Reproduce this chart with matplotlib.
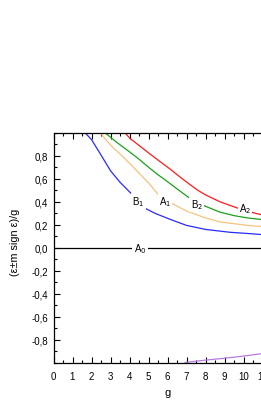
import matplotlib
matplotlib.use("Agg")
import matplotlib.pyplot as plt
import numpy as np
from matplotlib.ticker import MultipleLocator, FuncFormatter

plt.rcParams['font.family'] = ['Liberation Sans', 'DejaVu Sans']

# Data
gA2 = [3.76, 4.03, 4.5, 5.08, 5.6, 6.13, 6.7, 7.18, 7.6, 8.0, 8.76, 9.7, 10.4, 11.0, 12.0]
vA2 = [1.0, 0.95, 0.89, 0.815, 0.75, 0.685, 0.61, 0.55, 0.50, 0.46, 0.40, 0.345, 0.31, 0.285, 0.26]

gB2 = [2.71, 3.3, 4.03, 4.5, 5.08, 5.5, 6.04, 6.6, 7.18, 7.87, 8.76, 9.5, 10.2, 11.0, 12.0]
vB2 = [1.0, 0.92, 0.83, 0.77, 0.69, 0.635, 0.57, 0.50, 0.43, 0.37, 0.31, 0.28, 0.26, 0.245, 0.23]

gA1 = [2.45, 2.8, 3.2, 3.6, 4.03, 4.5, 5.08, 5.57, 6.3, 7.0, 8.0, 8.76, 9.5, 10.2, 11.0, 12.0]
vA1 = [1.0, 0.93, 0.86, 0.80, 0.73, 0.65, 0.55, 0.45, 0.38, 0.32, 0.26, 0.225, 0.21, 0.195, 0.185, 0.17]

gB1 = [1.66, 2.0, 2.45, 3.0, 3.5, 4.1, 4.75, 5.34, 6.1, 7.0, 8.0, 9.3, 10.2, 11.0, 12.0]
vB1 = [1.0, 0.94, 0.82, 0.67, 0.57, 0.47, 0.35, 0.30, 0.25, 0.195, 0.16, 0.135, 0.125, 0.115, 0.105]

gA0 = [0.0, 12.0]
vA0 = [0.0, 0.0]

gP = [6.93, 8.0, 8.94, 10.0, 10.92, 12.0]
vP = [-0.995, -0.975, -0.96, -0.94, -0.92, -0.90]

labels = ['A$_2$', 'B$_2$', 'A$_1$', 'B$_1$', 'A$_0$']
label_g = [10.08, 7.54, 5.87, 4.45, 4.55]
label_v = [0.345, 0.38, 0.41, 0.405, 0.0]

fig = plt.figure(figsize=(2.61, 4.06), dpi=100)
ax = fig.add_axes([53.5/261, 42/406, 228/261, 230.3/406])

lw = 0.9
ax.plot(gA2, vA2, color='#ff1a1a', lw=lw)
ax.plot(gB2, vB2, color='#1aa01a', lw=lw)
ax.plot(gA1, vA1, color='#f5c47a', lw=lw)
ax.plot(gB1, vB1, color='#2a2aff', lw=lw)
ax.plot(gA0, vA0, color='black', lw=lw)
ax.plot(gP, vP, color='#b77ae0', lw=lw)

for t, x, y in zip(labels, label_g, label_v):
    ax.text(x, y, t, fontsize=7, ha='center', va='center',
            bbox=dict(facecolor='white', edgecolor='none', pad=1.0))

ax.set_xlim(0, 12)
ax.set_ylim(-1.0, 1.0)
ax.xaxis.set_major_locator(MultipleLocator(1))
ax.xaxis.set_minor_locator(MultipleLocator(0.5))
ax.set_yticks([-0.8, -0.6, -0.4, -0.2, 0.0, 0.2, 0.4, 0.6, 0.8])
ax.yaxis.set_minor_locator(MultipleLocator(0.1))
ax.yaxis.set_major_formatter(FuncFormatter(lambda v, p: ('%.1f' % v).replace('.', ',').replace('-0,0', '0,0')))
ax.tick_params(which='both', direction='in', top=True, right=True, labelsize=7, width=0.8)
ax.tick_params(which='major', length=4, pad=4)
ax.tick_params(which='minor', length=2)
ax.tick_params(axis='x', which='major', pad=6)
for s in ax.spines.values():
    s.set_linewidth(0.9)

ax.set_xlabel('g', fontsize=8, labelpad=4)
ax.set_ylabel('(ε±m sign ε)/g', fontsize=7.8)
ax.yaxis.set_label_coords(-33.5/228, (406 - 242.5 - 42) / 230.3)

fig.savefig('out.png', dpi=100)
